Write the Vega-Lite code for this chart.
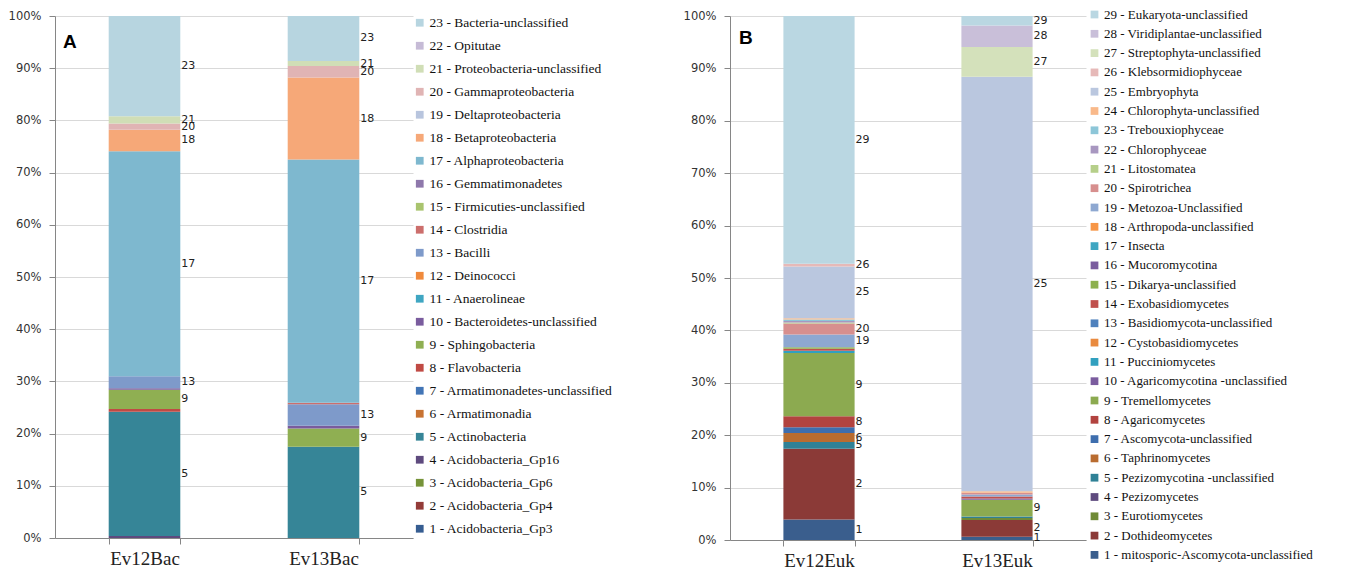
{
  "$schema": "https://vega.github.io/schema/vega-lite/v6.json",
  "background": "white",
  "padding": {"left": 8, "top": 8, "right": 2, "bottom": 0},
  "config": {
    "view": {"stroke": null},
    "concat": {"spacing": 70},
    "axisY": {"grid": true, "gridColor": "#D9D9D9", "domainColor": "#868686", "tickColor": "#868686", "tickSize": 6, "labelPadding": 8, "labelFont": "DejaVu Sans", "labelFontSize": 11.5, "labelColor": "#333333", "title": null, "values": [0,10,20,30,40,50,60,70,80,90,100], "labelExpr": "datum.value + '%'"},
    "axisX": {"grid": false, "domainColor": "#868686", "tickColor": "#868686", "tickSize": 6, "tickBand": "extent", "labelPadding": 5, "labelFont": "Liberation Serif", "labelFontSize": 19, "labelColor": "#222222", "labelAngle": 0, "title": null},
    "title": {"font": "Liberation Sans", "fontWeight": "bold", "fontSize": 19, "color": "#000000", "anchor": "start", "frame": "group"}
  },
  "datasets": {
    "bac": [
      {"sample": "Ev12Bac", "id": 4, "taxon": "4 - Acidobacteria_Gp16", "pct": 0.4},
      {"sample": "Ev12Bac", "id": 5, "taxon": "5 - Actinobacteria", "pct": 23.8},
      {"sample": "Ev12Bac", "id": 8, "taxon": "8 - Flavobacteria", "pct": 0.5},
      {"sample": "Ev12Bac", "id": 9, "taxon": "9 - Sphingobacteria", "pct": 3.7},
      {"sample": "Ev12Bac", "id": 10, "taxon": "10 - Bacteroidetes-unclassified", "pct": 0.3},
      {"sample": "Ev12Bac", "id": 13, "taxon": "13 - Bacilli", "pct": 2.3},
      {"sample": "Ev12Bac", "id": 17, "taxon": "17 - Alphaproteobacteria", "pct": 43.1},
      {"sample": "Ev12Bac", "id": 18, "taxon": "18 - Betaproteobacteria", "pct": 4.1},
      {"sample": "Ev12Bac", "id": 20, "taxon": "20 - Gammaproteobacteria", "pct": 1.2},
      {"sample": "Ev12Bac", "id": 21, "taxon": "21 - Proteobacteria-unclassified", "pct": 1.4},
      {"sample": "Ev12Bac", "id": 23, "taxon": "23 - Bacteria-unclassified", "pct": 19.2},
      {"sample": "Ev13Bac", "id": 5, "taxon": "5 - Actinobacteria", "pct": 17.5},
      {"sample": "Ev13Bac", "id": 9, "taxon": "9 - Sphingobacteria", "pct": 3.5},
      {"sample": "Ev13Bac", "id": 10, "taxon": "10 - Bacteroidetes-unclassified", "pct": 0.5},
      {"sample": "Ev13Bac", "id": 13, "taxon": "13 - Bacilli", "pct": 4.1},
      {"sample": "Ev13Bac", "id": 14, "taxon": "14 - Clostridia", "pct": 0.3},
      {"sample": "Ev13Bac", "id": 17, "taxon": "17 - Alphaproteobacteria", "pct": 46.6},
      {"sample": "Ev13Bac", "id": 18, "taxon": "18 - Betaproteobacteria", "pct": 15.7},
      {"sample": "Ev13Bac", "id": 20, "taxon": "20 - Gammaproteobacteria", "pct": 2.2},
      {"sample": "Ev13Bac", "id": 21, "taxon": "21 - Proteobacteria-unclassified", "pct": 1.0},
      {"sample": "Ev13Bac", "id": 23, "taxon": "23 - Bacteria-unclassified", "pct": 8.6}
    ],
    "euk": [
      {"sample": "Ev12Euk", "id": 1, "taxon": "1 - mitosporic-Ascomycota-unclassified", "pct": 3.9},
      {"sample": "Ev12Euk", "id": 2, "taxon": "2 - Dothideomycetes", "pct": 13.5},
      {"sample": "Ev12Euk", "id": 5, "taxon": "5 - Pezizomycotina -unclassified", "pct": 1.3},
      {"sample": "Ev12Euk", "id": 6, "taxon": "6 - Taphrinomycetes", "pct": 1.7},
      {"sample": "Ev12Euk", "id": 7, "taxon": "7 - Ascomycota-unclassified", "pct": 1.1},
      {"sample": "Ev12Euk", "id": 8, "taxon": "8 - Agaricomycetes", "pct": 2.1},
      {"sample": "Ev12Euk", "id": 9, "taxon": "9 - Tremellomycetes", "pct": 12.1},
      {"sample": "Ev12Euk", "id": 11, "taxon": "11 - Pucciniomycetes", "pct": 0.4},
      {"sample": "Ev12Euk", "id": 14, "taxon": "14 - Exobasidiomycetes", "pct": 0.4},
      {"sample": "Ev12Euk", "id": 15, "taxon": "15 - Dikarya-unclassified", "pct": 0.3},
      {"sample": "Ev12Euk", "id": 19, "taxon": "19 - Metozoa-Unclassified", "pct": 2.4},
      {"sample": "Ev12Euk", "id": 20, "taxon": "20 - Spirotrichea", "pct": 2.1},
      {"sample": "Ev12Euk", "id": 21, "taxon": "21 - Litostomatea", "pct": 0.2},
      {"sample": "Ev12Euk", "id": 22, "taxon": "22 - Chlorophyceae", "pct": 0.3},
      {"sample": "Ev12Euk", "id": 23, "taxon": "23 - Trebouxiophyceae", "pct": 0.3},
      {"sample": "Ev12Euk", "id": 24, "taxon": "24 - Chlorophyta-unclassified", "pct": 0.2},
      {"sample": "Ev12Euk", "id": 25, "taxon": "25 - Embryophyta", "pct": 9.9},
      {"sample": "Ev12Euk", "id": 26, "taxon": "26 - Klebsormidiophyceae", "pct": 0.5},
      {"sample": "Ev12Euk", "id": 29, "taxon": "29 - Eukaryota-unclassified", "pct": 47.3},
      {"sample": "Ev13Euk", "id": 1, "taxon": "1 - mitosporic-Ascomycota-unclassified", "pct": 0.6},
      {"sample": "Ev13Euk", "id": 2, "taxon": "2 - Dothideomycetes", "pct": 3.2},
      {"sample": "Ev13Euk", "id": 3, "taxon": "3 - Eurotiomycetes", "pct": 0.4},
      {"sample": "Ev13Euk", "id": 5, "taxon": "5 - Pezizomycotina -unclassified", "pct": 0.3},
      {"sample": "Ev13Euk", "id": 9, "taxon": "9 - Tremellomycetes", "pct": 3.2},
      {"sample": "Ev13Euk", "id": 10, "taxon": "10 - Agaricomycotina -unclassified", "pct": 0.2},
      {"sample": "Ev13Euk", "id": 14, "taxon": "14 - Exobasidiomycetes", "pct": 0.4},
      {"sample": "Ev13Euk", "id": 19, "taxon": "19 - Metozoa-Unclassified", "pct": 0.4},
      {"sample": "Ev13Euk", "id": 20, "taxon": "20 - Spirotrichea", "pct": 0.3},
      {"sample": "Ev13Euk", "id": 24, "taxon": "24 - Chlorophyta-unclassified", "pct": 0.3},
      {"sample": "Ev13Euk", "id": 25, "taxon": "25 - Embryophyta", "pct": 79.1},
      {"sample": "Ev13Euk", "id": 27, "taxon": "27 - Streptophyta-unclassified", "pct": 5.7},
      {"sample": "Ev13Euk", "id": 28, "taxon": "28 - Viridiplantae-unclassified", "pct": 4.1},
      {"sample": "Ev13Euk", "id": 29, "taxon": "29 - Eukaryota-unclassified", "pct": 1.8}
    ]
  },
  "hconcat": [
    {
      "width": 358,
      "height": 522,
      "title": {"text": "A", "offset": -42, "dx": 8},
      "data": {"name": "bac"},
      "transform": [
        {"stack": "pct", "groupby": ["sample"], "sort": [{"field": "id", "order": "ascending"}], "as": ["y0", "y1"]},
        {"calculate": "(datum.y0 + datum.y1) / 2", "as": "ymid"}
      ],
      "encoding": {
        "x": {"field": "sample", "type": "nominal", "scale": {"paddingInner": 0.6, "paddingOuter": 0.3}}
      },
      "layer": [
        {
          "mark": {"type": "bar"},
          "encoding": {
            "y": {"field": "y0", "type": "quantitative", "scale": {"domain": [0, 100]}},
            "y2": {"field": "y1"},
            "color": {
              "field": "taxon", "type": "nominal",
              "scale": {
                "domain": ["23 - Bacteria-unclassified", "22 - Opitutae", "21 - Proteobacteria-unclassified", "20 - Gammaproteobacteria", "19 - Deltaproteobacteria", "18 - Betaproteobacteria", "17 - Alphaproteobacteria", "16 - Gemmatimonadetes", "15 - Firmicuties-unclassified", "14 - Clostridia", "13 - Bacilli", "12 - Deinococci", "11 - Anaerolineae", "10 - Bacteroidetes-unclassified", "9 - Sphingobacteria", "8 - Flavobacteria", "7 - Armatimonadetes-unclassified", "6 - Armatimonadia", "5 - Actinobacteria", "4 - Acidobacteria_Gp16", "3 - Acidobacteria_Gp6", "2 - Acidobacteria_Gp4", "1 - Acidobacteria_Gp3"],
                "range": ["#B7D5E0", "#C6BBD6", "#D0DEB6", "#E0B4B4", "#B8C5DE", "#F6A878", "#7EB8CF", "#8E78AB", "#A9C46E", "#CC6E6C", "#7E9ACA", "#F08A3C", "#3FA6C2", "#7A5C9E", "#8FAF52", "#C04A44", "#4275B6", "#C87332", "#368597", "#5E4A7E", "#769338", "#933B38", "#365D91"]
              },
              "legend": {"title": null, "orient": "right", "offset": 0, "symbolType": "square", "symbolSize": 60, "symbolStrokeWidth": 0, "labelFont": "Liberation Serif", "labelFontSize": 13.5, "labelColor": "#111111", "labelOffset": 3, "labelLimit": 400, "rowPadding": 8}
            }
          }
        },
        {
          "transform": [{"filter": "indexof(['Ev12Bac:5','Ev12Bac:9','Ev12Bac:13','Ev12Bac:17','Ev12Bac:18','Ev12Bac:20','Ev12Bac:21','Ev12Bac:23','Ev13Bac:5','Ev13Bac:9','Ev13Bac:13','Ev13Bac:17','Ev13Bac:18','Ev13Bac:20','Ev13Bac:21','Ev13Bac:23'], datum.sample + ':' + datum.id) >= 0"}],
          "mark": {"type": "text", "align": "left", "baseline": "middle", "dx": 1, "font": "DejaVu Sans", "fontSize": 11, "color": "#222222"},
          "encoding": {
            "x": {"field": "sample", "type": "nominal", "bandPosition": 1},
            "y": {"field": "ymid", "type": "quantitative"},
            "text": {"field": "id", "type": "nominal"}
          }
        }
      ]
    },
    {
      "width": 356,
      "height": 524,
      "title": {"text": "B", "offset": -40, "dx": 9},
      "data": {"name": "euk"},
      "transform": [
        {"stack": "pct", "groupby": ["sample"], "sort": [{"field": "id", "order": "ascending"}], "as": ["y0", "y1"]},
        {"calculate": "(datum.y0 + datum.y1) / 2", "as": "ymid"}
      ],
      "encoding": {
        "x": {"field": "sample", "type": "nominal", "scale": {"paddingInner": 0.6, "paddingOuter": 0.3}}
      },
      "layer": [
        {
          "mark": {"type": "bar"},
          "encoding": {
            "y": {"field": "y0", "type": "quantitative", "scale": {"domain": [0, 100]}},
            "y2": {"field": "y1"},
            "color": {
              "field": "taxon", "type": "nominal",
              "scale": {
                "domain": ["29 - Eukaryota-unclassified", "28 - Viridiplantae-unclassified", "27 - Streptophyta-unclassified", "26 - Klebsormidiophyceae", "25 - Embryophyta", "24 - Chlorophyta-unclassified", "23 - Trebouxiophyceae", "22 - Chlorophyceae", "21 - Litostomatea", "20 - Spirotrichea", "19 - Metozoa-Unclassified", "18 - Arthropoda-unclassified", "17 - Insecta", "16 - Mucoromycotina", "15 - Dikarya-unclassified", "14 - Exobasidiomycetes", "13 - Basidiomycota-unclassified", "12 - Cystobasidiomycetes", "11 - Pucciniomycetes", "10 - Agaricomycotina -unclassified", "9 - Tremellomycetes", "8 - Agaricomycetes", "7 - Ascomycota-unclassified", "6 - Taphrinomycetes", "5 - Pezizomycotina -unclassified", "4 - Pezizomycetes", "3 - Eurotiomycetes", "2 - Dothideomycetes", "1 - mitosporic-Ascomycota-unclassified"],
                "range": ["#BAD7E2", "#C9BFD9", "#D4E1BB", "#E6B9B8", "#BAC7DF", "#F9B98A", "#8DC6D8", "#A897C0", "#B6CF8A", "#D78F8E", "#8EA8D1", "#F79646", "#3FA6C2", "#7A5C9E", "#8DB04E", "#C0504D", "#4F81BD", "#E98A3F", "#31A0BF", "#7A5C9E", "#8CAA50", "#B2433F", "#3E6EAE", "#B96C30", "#2F8196", "#5E4A7E", "#6F8A36", "#8B3A37", "#3A5E8D"]
              },
              "legend": {"title": null, "orient": "none", "legendX": 358, "legendY": -8, "symbolType": "square", "symbolSize": 60, "symbolStrokeWidth": 0, "labelFont": "Liberation Serif", "labelFontSize": 13, "labelColor": "#111111", "labelOffset": 3, "labelLimit": 400, "rowPadding": 5.3}
            }
          }
        },
        {
          "transform": [{"filter": "indexof(['Ev12Euk:1','Ev12Euk:2','Ev12Euk:5','Ev12Euk:6','Ev12Euk:8','Ev12Euk:9','Ev12Euk:19','Ev12Euk:20','Ev12Euk:25','Ev12Euk:26','Ev12Euk:29','Ev13Euk:1','Ev13Euk:2','Ev13Euk:9','Ev13Euk:25','Ev13Euk:27','Ev13Euk:28','Ev13Euk:29'], datum.sample + ':' + datum.id) >= 0"}],
          "mark": {"type": "text", "align": "left", "baseline": "middle", "dx": 1, "font": "DejaVu Sans", "fontSize": 11, "color": "#222222"},
          "encoding": {
            "x": {"field": "sample", "type": "nominal", "bandPosition": 1},
            "y": {"field": "ymid", "type": "quantitative"},
            "text": {"field": "id", "type": "nominal"}
          }
        }
      ]
    }
  ],
  "resolve": {"scale": {"color": "independent"}}
}
